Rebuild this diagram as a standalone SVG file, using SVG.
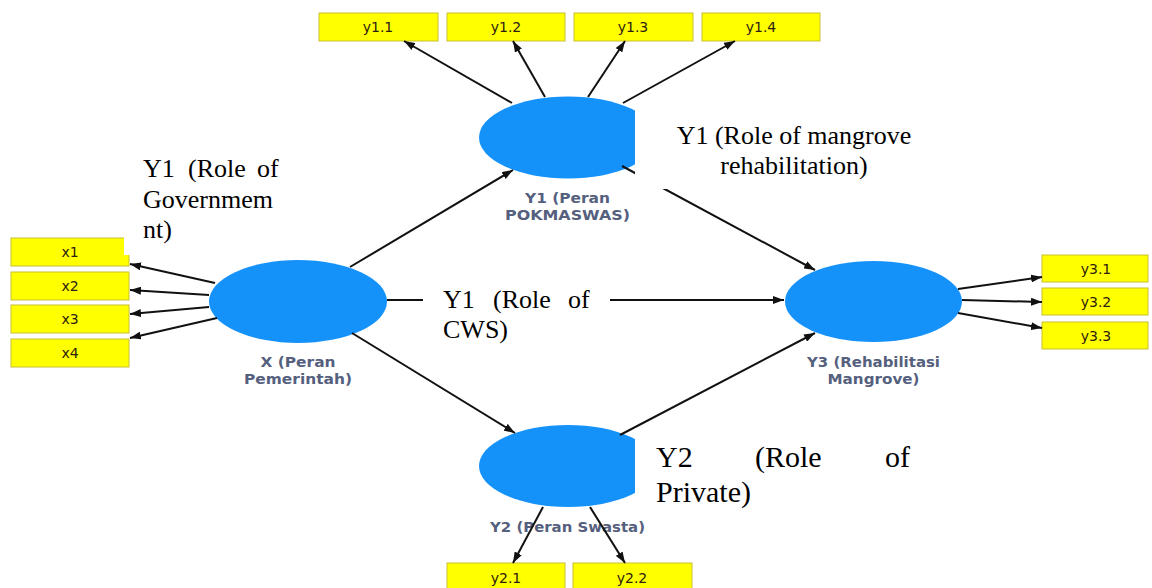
<svg xmlns="http://www.w3.org/2000/svg" width="1152" height="588" viewBox="0 0 1152 588">
<defs>
<marker id="ah" markerUnits="userSpaceOnUse" markerWidth="11" markerHeight="8" refX="11" refY="4" orient="auto">
<path d="M0,0 L11,4 L0,8 z" fill="#111"/>
</marker>
<style>
.ind{fill:#ffff00;stroke:#c8c030;stroke-width:1}
.it{font-family:"DejaVu Sans",sans-serif;font-size:14px;fill:#2e2010;text-anchor:middle}
.lv{fill:#1592fa}
.lt{font-family:"DejaVu Sans",sans-serif;font-weight:bold;font-size:14px;fill:#55607e;text-anchor:middle}
.cn line{stroke:#111;stroke-width:2;marker-end:url(#ah)}
.ann{font-family:"Liberation Serif","Times New Roman",serif;fill:#000}
.occ{fill:#fff}
</style>
</defs>
<rect width="1152" height="588" fill="#fff"/>

<!-- indicator boxes -->
<g id="x1"><rect class="ind" x="11" y="238" width="118" height="28"/><text class="it" x="70" y="257">x1</text></g>
<g id="x2"><rect class="ind" x="11" y="272" width="118" height="28"/><text class="it" x="70" y="291">x2</text></g>
<g id="x3"><rect class="ind" x="11" y="305" width="118" height="28"/><text class="it" x="70" y="324">x3</text></g>
<g id="x4"><rect class="ind" x="11" y="339" width="118" height="28"/><text class="it" x="70" y="358">x4</text></g>

<g id="y1_1"><rect class="ind" x="319" y="13" width="119" height="28"/><text class="it" x="378" y="32">y1.1</text></g>
<g id="y1_2"><rect class="ind" x="447" y="13" width="118" height="28"/><text class="it" x="506" y="32">y1.2</text></g>
<g id="y1_3"><rect class="ind" x="574" y="13" width="119" height="28"/><text class="it" x="633" y="32">y1.3</text></g>
<g id="y1_4"><rect class="ind" x="702" y="13" width="118" height="28"/><text class="it" x="761" y="32">y1.4</text></g>

<g id="y3_1"><rect class="ind" x="1042" y="255" width="106" height="27"/><text class="it" x="1096" y="274">y3.1</text></g>
<g id="y3_2"><rect class="ind" x="1042" y="288" width="106" height="27"/><text class="it" x="1096" y="307">y3.2</text></g>
<g id="y3_3"><rect class="ind" x="1042" y="322" width="106" height="27"/><text class="it" x="1096" y="341">y3.3</text></g>

<g id="y2_1"><rect class="ind" x="447" y="563" width="118" height="29"/><text class="it" x="506" y="583">y2.1</text></g>
<g id="y2_2"><rect class="ind" x="573" y="563" width="119" height="29"/><text class="it" x="632" y="583">y2.2</text></g>

<!-- latent variables -->
<g id="X">
<ellipse class="lv" cx="298" cy="301.5" rx="89" ry="41.5"/>
<text class="lt" x="298" y="367" textLength="75" lengthAdjust="spacingAndGlyphs">X (Peran</text>
<text class="lt" x="298" y="384" textLength="108" lengthAdjust="spacingAndGlyphs">Pemerintah)</text>
</g>
<g id="Y1">
<ellipse class="lv" cx="568" cy="137.5" rx="89" ry="41"/>
<text class="lt" x="567.5" y="203" textLength="85" lengthAdjust="spacingAndGlyphs">Y1 (Peran</text>
<text class="lt" x="567.5" y="220" textLength="125" lengthAdjust="spacingAndGlyphs">POKMASWAS)</text>
</g>
<g id="Y2">
<ellipse class="lv" cx="568" cy="466" rx="89" ry="41"/>
<text class="lt" x="567.5" y="532" textLength="155" lengthAdjust="spacingAndGlyphs">Y2 (Peran Swasta)</text>
</g>
<g id="Y3">
<ellipse class="lv" cx="873.5" cy="301.5" rx="88.5" ry="40.5"/>
<text class="lt" x="873.5" y="367" textLength="133" lengthAdjust="spacingAndGlyphs">Y3 (Rehabilitasi</text>
<text class="lt" x="873.5" y="384" textLength="92" lengthAdjust="spacingAndGlyphs">Mangrove)</text>
</g>

<!-- connectors -->
<g id="connectors" class="cn">
<line x1="215" y1="283" x2="130" y2="264"/>
<line x1="209" y1="295" x2="130" y2="290"/>
<line x1="209" y1="307" x2="130" y2="314"/>
<line x1="217" y1="318" x2="130" y2="338"/>
<line x1="512" y1="103" x2="404" y2="41"/>
<line x1="545" y1="97" x2="513" y2="41"/>
<line x1="588" y1="97" x2="625" y2="41"/>
<line x1="623" y1="103" x2="735" y2="41"/>
<line x1="958" y1="289" x2="1042" y2="277"/>
<line x1="962" y1="300" x2="1042" y2="302"/>
<line x1="958" y1="313" x2="1042" y2="328"/>
<line x1="543" y1="507" x2="513" y2="563"/>
<line x1="590" y1="507" x2="625" y2="563"/>
<line x1="350" y1="267" x2="513" y2="170"/>
<line x1="387" y1="300" x2="784" y2="300"/>
<line x1="352" y1="333" x2="515" y2="433"/>
<line x1="622" y1="166" x2="815" y2="270"/>
<line x1="620" y1="435" x2="815" y2="333"/>
</g>

<!-- annotation text boxes -->
<g id="note-government">
<rect class="occ" x="124" y="150" width="166" height="105"/>
<text class="ann" font-size="26"><tspan x="143" y="177">Y1</tspan><tspan x="188" y="177">(Role</tspan><tspan x="257" y="177">of</tspan><tspan x="143" y="208">Governmem</tspan><tspan x="143" y="238">nt)</tspan></text>
</g>
<g id="note-mangrove">
<rect class="occ" x="635" y="105" width="300" height="84"/>
<text class="ann" font-size="26" text-anchor="middle"><tspan x="794" y="144">Y1 (Role of mangrove</tspan><tspan x="794" y="174">rehabilitation)</tspan></text>
</g>
<g id="note-cws">
<rect class="occ" x="423" y="280" width="187" height="66"/>
<text class="ann" font-size="26"><tspan x="443" y="308">Y1</tspan><tspan x="493" y="308">(Role</tspan><tspan x="568" y="308">of</tspan><tspan x="443" y="338">CWS)</tspan></text>
</g>
<g id="note-private">
<rect class="occ" x="635" y="428" width="285" height="86"/>
<text class="ann" font-size="30"><tspan x="656" y="467">Y2</tspan><tspan x="755" y="467">(Role</tspan><tspan x="885" y="467">of</tspan><tspan x="656" y="502">Private)</tspan></text>
</g>
</svg>
